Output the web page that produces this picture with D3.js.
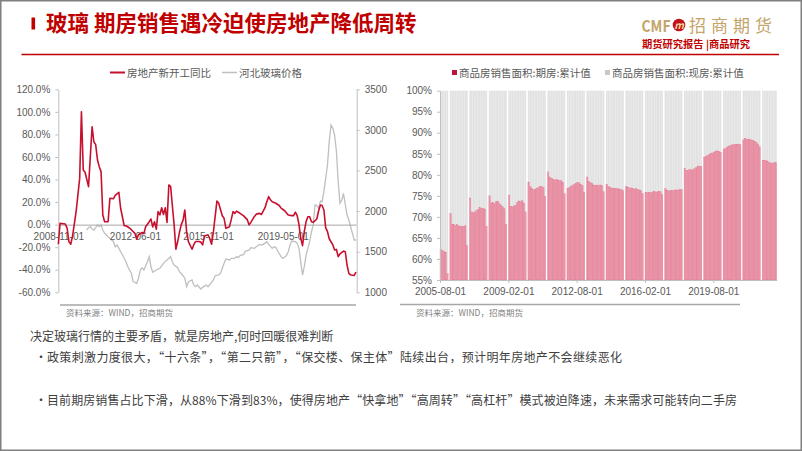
<!DOCTYPE html>
<html><head><meta charset="utf-8">
<script src="https://cdn.jsdelivr.net/npm/d3@7"></script>
<style>
body{margin:0;background:#fff}
svg{display:block}
text{font-family:"Noto Sans CJK SC","Noto Sans",sans-serif}
.num text{font-family:"Liberation Sans",Arial,sans-serif}
</style>
</head><body><svg id="c" width="802" height="451"></svg>
<script>
// ---------------- DATA ----------------
const titleText = "玻璃 期房销售遇冷迫使房地产降低周转";
const leftLegend = ["房地产新开工同比", "河北玻璃价格"];
const rightLegend = ["商品房销售面积:期房:累计值", "商品房销售面积:现房:累计值"];
const sourceText = "资料来源：WIND，招商期货";
const bodyLines = [
  "决定玻璃行情的主要矛盾，就是房地产,何时回暖很难判断",
  "政策刺激力度很大，“十六条”，“第二只箭”，“保交楼、保主体”陆续出台，预计明年房地产不会继续恶化",
  "目前期房销售占比下滑，从88%下滑到83%，使得房地产“快拿地”“高周转”“高杠杆”模式被迫降速，未来需求可能转向二手房"
];

// left chart: 房地产新开工同比 (%)
const startsDates = ["2008-11","2008-12","2009-03","2009-04","2009-05","2009-06","2009-07","2009-09","2009-11","2009-12",
 "2010-01","2010-02","2010-04","2010-06","2010-07","2010-08","2010-09","2010-10","2010-11","2010-12",
 "2011-01","2011-03","2011-04","2011-06","2011-07","2011-09","2011-10","2011-12",
 "2012-01","2012-03","2012-04","2012-06","2012-07","2012-08","2012-10","2012-11","2012-12",
 "2013-02","2013-03","2013-04","2013-05","2013-06","2013-07","2013-08","2013-09","2013-10","2013-11","2013-12",
 "2014-01","2014-02","2014-03","2014-04","2014-05","2014-06","2014-07","2014-08","2014-09","2014-10","2014-11","2014-12",
 "2015-02","2015-03","2015-04","2015-06","2015-07","2015-08","2015-09","2015-11","2015-12",
 "2016-01","2016-02","2016-04","2016-05","2016-07","2016-08","2016-09","2016-11","2016-12",
 "2017-01","2017-02","2017-03","2017-04","2017-05","2017-07","2017-09","2017-10","2017-11",
 "2018-01","2018-02","2018-04","2018-05","2018-07","2018-08","2018-09","2018-10","2018-11",
 "2019-01","2019-03","2019-04","2019-06","2019-08","2019-10","2019-11","2019-12",
 "2020-01","2020-02","2020-03","2020-04","2020-05","2020-06","2020-07","2020-08","2020-09","2020-10","2020-12",
 "2021-01","2021-02","2021-03","2021-04","2021-05","2021-06","2021-07","2021-09","2021-10","2021-11","2021-12",
 "2022-01","2022-03","2022-04","2022-05","2022-06","2022-07","2022-09","2022-10"];
const startsYoY = [-17.4,1.1,0.5,-3.2,-15.1,-17.4,-10.6,11.5,41,100,
 48.5,46.5,33.7,86.8,73.5,71,57.3,51.4,47,8.6,
 2.6,2.6,23.4,23,26,28.7,14.5,-1,
 -1,-3,-4.5,-7.7,-13,-9,-7,-8,-1.8,
 2.6,5,-2,2.6,-4,11.5,8.6,15,9,15,2,
 35.2,33.7,17.4,0,-21.8,-15,-7,0,4,13,-6.7,-15,
 -21.8,-18,-15,-15,-15.5,-18,-10,-9,-12.5,
 -17.4,-6.2,21,19,7.8,5.6,-3.3,-1.8,4.4,
 11.5,10,12,11,10,7.8,4.4,0,2,
 7.3,9.3,10,9,15,20.3,24.8,22,20.3,
 19,17,14.6,12.3,8.6,8,8,11,
 8,0,-12,-18.6,-6.2,2.6,7,7,2.6,2,5,
 12.3,17.4,17,13,-2.6,-6.2,-12.5,-18,-22.5,-22,-28.4,
 -26,-23.5,-24,-35.8,-43.2,-44.6,-45,-42];

// left chart: 河北玻璃价格 (元/吨, right axis)
const glassDates = ["2010-03","2010-04","2010-05","2010-06","2010-07","2010-08","2010-09","2010-10","2010-11","2010-12",
 "2011-01","2011-03","2011-04","2011-06","2011-07","2011-08","2011-09","2011-11",
 "2012-01","2012-02","2012-04","2012-05","2012-07","2012-08","2012-09","2012-10","2012-11",
 "2013-01","2013-02","2013-03","2013-04","2013-06","2013-08","2013-10","2013-12",
 "2014-02","2014-03","2014-04","2014-06","2014-07","2014-09","2014-10","2014-11","2014-12",
 "2015-02","2015-03","2015-04","2015-05","2015-07","2015-08","2015-10","2015-11",
 "2016-01","2016-02","2016-03","2016-05","2016-06","2016-08","2016-09","2016-11","2016-12",
 "2017-02","2017-03","2017-04","2017-05","2017-07","2017-08","2017-10","2017-11",
 "2018-01","2018-02","2018-04","2018-05","2018-06","2018-08","2018-09","2018-11","2018-12",
 "2019-01","2019-02","2019-04","2019-05","2019-07","2019-08","2019-09","2019-10","2019-12",
 "2020-01","2020-02","2020-03","2020-04","2020-05","2020-06","2020-07","2020-08","2020-09","2020-10","2020-11","2020-12",
 "2021-01","2021-02","2021-03","2021-04","2021-06","2021-07","2021-08","2021-09","2021-10","2021-11","2021-12",
 "2022-01","2022-02","2022-03","2022-05","2022-06","2022-07","2022-09","2022-10"];
const glassPrice = [1767,1796,1808,1780,1767,1796,1829,1808,1829,1767,
 1727,1685,1665,1623,1561,1582,1541,1459,
 1377,1315,1234,1131,1111,1172,1275,1303,1275,
 1377,1439,1315,1246,1275,1295,1357,1398,
 1439,1377,1336,1303,1254,1204,1172,1069,1131,
 1152,1090,1069,1090,1041,1061,1090,1069,
 1123,1152,1204,1213,1234,1357,1410,1398,1418,
 1418,1439,1427,1451,1467,1508,1520,1549,
 1541,1561,1590,1582,1590,1623,1590,1541,1561,
 1553,1512,1439,1418,1451,1500,1582,1631,1623,
 1603,1541,1377,1213,1315,1459,1541,1623,1746,1829,2075,2067,
 2034,2124,2116,2239,2568,2855,3060,3019,2937,2732,2362,
 2096,2137,2219,1952,1890,1808,1644,1644];

// right chart: 期房销售面积占比 (%), months Feb..Dec each year (January not published); 2005 starts in August
const shareYears = [2005,2006,2007,2008,2009,2010,2011,2012,2013,2014,2015,2016,2017,2018,2019,2020,2021,2022];
const shareFirstMonth = [8,2,2,2,2,2,2,2,2,2,2,2,2,2,2,2,2,2];
const presaleShare = [
 [62.3,62.0,61.8,61.6,56.5],
 [70.8,68.3,68.2,68.0,68.2,67.9,67.8,67.7,67.8,67.9,63.2],
 [74.5,71.2,71.0,71.2,71.5,71.8,72.2,72.1,72.0,71.9,67.8],
 [75.0,73.3,73.5,73.2,73.6,73.7,73.2,72.8,72.4,72.0,68.3],
 [75.2,72.5,72.4,72.6,72.8,73.5,73.8,73.7,73.9,73.3,71.2],
 [78.3,77.2,76.8,76.5,76.6,76.7,77.0,77.2,77.3,77.0,74.8],
 [80.7,79.5,79.2,79.0,78.8,78.9,78.8,78.7,78.6,78.2,75.5],
 [76.8,77.0,77.2,77.5,77.7,77.9,78.2,78.1,77.8,77.5,75.9],
 [79.5,78.4,78.2,78.0,77.6,77.5,77.6,77.5,77.6,77.4,76.0],
 [77.8,77.3,77.0,76.9,76.8,76.7,76.8,76.7,76.6,76.5,76.2],
 [77.3,77.1,76.9,76.9,76.8,76.6,76.7,76.6,76.4,76.2,75.6],
 [75.8,75.8,75.9,75.8,75.9,76.0,76.0,75.9,76.1,76.0,75.3],
 [76.7,76.4,76.2,76.2,76.3,76.3,76.4,76.4,76.4,76.5,76.5],
 [81.5,81.1,81.0,81.2,81.3,81.1,81.5,81.7,81.9,82.1,82.0],
 [84.2,84.4,84.6,84.8,85.0,85.2,85.4,85.6,85.7,85.6,85.4],
 [86.1,86.3,86.6,86.8,86.9,87.1,87.2,87.3,87.3,87.3,87.2],
 [88.3,88.7,88.5,88.5,88.4,88.3,88.2,88.0,87.7,87.3,86.7],
 [83.5,83.5,83.4,83.2,82.9,82.8,82.8,82.9,82.9]
];

const leftTicksY = [-60,-40,-20,0,20,40,60,80,100,120];
const rightTicksY = [1000,1500,2000,2500,3000,3500];
const leftTicksX = ["2008-11-01","2012-06-01","2015-11-01","2019-05-01"];
const shareTicksY = [55,60,65,70,75,80,85,90,95,100];
const shareTicksX = ["2005-08-01","2009-02-01","2012-08-01","2016-02-01","2019-08-01"];

// ---------------- DRAW ----------------
const svg = d3.select("#c");
const pm = d3.timeParse("%Y-%m");
const pd = d3.timeParse("%Y-%m-%d");
const fmtD = d3.timeFormat("%Y-%m-%d");
const txt = "#595959", axisCol = "#bfbfbf";
const RED = "#c00000";

// frame
svg.append("rect").attr("x",0.75).attr("y",0.75).attr("width",800.5).attr("height",449.5)
  .attr("fill","none").attr("stroke","#7f7f7f").attr("stroke-width",1.5);

// header
svg.append("rect").attr("x",31.5).attr("y",17.5).attr("width",3.6).attr("height",12).attr("fill",RED);
svg.append("text").attr("x",46).attr("y",30.5).attr("font-size",21.5).attr("font-weight",700)
  .attr("fill",RED).text(titleText);
svg.append("line").attr("x1",21.5).attr("x2",779).attr("y1",54.5).attr("y2",54.5)
  .attr("stroke",RED).attr("stroke-width",1.3);
// logo
const gold = "#c4a46a";
svg.append("text").attr("x",641.5).attr("y",31.5).attr("font-family","Liberation Sans, Arial").attr("font-size",16)
  .attr("font-weight",700).attr("fill",gold).attr("textLength",29).attr("lengthAdjust","spacingAndGlyphs").text("CMF");
svg.append("circle").attr("cx",679).attr("cy",25).attr("r",6.3).attr("fill","#c0121c");
svg.append("text").attr("x",679).attr("y",28.5).attr("text-anchor","middle").attr("font-family","Liberation Serif")
  .attr("font-style","italic").attr("font-weight",700).attr("font-size",10).attr("fill","#f3d9a0").text("m");
svg.append("text").attr("x",689).attr("y",32).attr("font-size",17)
  .attr("textLength",83).attr("lengthAdjust","spacing")
  .attr("fill",gold).text("招商期货");
svg.append("text").attr("x",642).attr("y",48).attr("font-size",10).attr("font-weight",700)
  .attr("fill",RED).attr("textLength",108).attr("lengthAdjust","spacingAndGlyphs").text("期货研究报告 |商品研究");

// ---------- left chart ----------
const xL = d3.scaleTime().domain([pm("2008-11"), pm("2022-10")]).range([58.3, 356]);
const yL = d3.scaleLinear().domain([-60,120]).range([292.3, 89.3]);
const yR = d3.scaleLinear().domain([1000,3500]).range([292.3, 89.3]);

function styleAxis(g){
  g.select(".domain").attr("stroke",axisCol);
  g.selectAll(".tick line").attr("stroke",axisCol);
  g.selectAll(".tick text").attr("fill",txt).attr("font-size",10);
  g.attr("class","num");
}
svg.append("g").attr("transform","translate(58.3,0)")
  .call(d3.axisLeft(yL).tickValues(leftTicksY).tickFormat(d=>d.toFixed(1)+"%").tickSize(3).tickSizeOuter(0).tickPadding(5))
  .call(styleAxis);
svg.append("g").attr("transform","translate(356.7,0)")
  .call(d3.axisRight(yR).tickValues(rightTicksY).tickFormat(d3.format("d")).tickSize(3).tickSizeOuter(0).tickPadding(5))
  .call(styleAxis);

const gl = d3.line().x(d=>xL(d[0])).y(d=>yR(d[1]));
svg.append("path").datum(glassDates.map((d,i)=>[pm(d),glassPrice[i]]))
  .attr("d",gl).attr("fill","none").attr("stroke","#bfbfbf").attr("stroke-width",1.3);

const xa = svg.append("g").attr("transform",`translate(0,${yL(0)})`)
  .call(d3.axisBottom(xL).tickValues(leftTicksX.map(pd)).tickFormat(fmtD).tickSize(0).tickPadding(8))
  .call(styleAxis);
xa.select(".domain").attr("stroke","#a6a6a6");

const rl = d3.line().x(d=>xL(d[0])).y(d=>yL(d[1]));
svg.append("path").datum(startsDates.map((d,i)=>[pm(d),startsYoY[i]]))
  .attr("d",rl).attr("fill","none").attr("stroke","#c8102e").attr("stroke-width",1.6).attr("stroke-linejoin","round");

// left legend
svg.append("line").attr("x1",110).attr("x2",125).attr("y1",72.5).attr("y2",72.5).attr("stroke","#c8102e").attr("stroke-width",2);
svg.append("text").attr("x",127).attr("y",76.5).attr("font-size",10.5).attr("fill",txt).text(leftLegend[0]);
svg.append("line").attr("x1",222).attr("x2",237).attr("y1",72.5).attr("y2",72.5).attr("stroke","#bfbfbf").attr("stroke-width",1.5);
svg.append("text").attr("x",239).attr("y",76.5).attr("font-size",10.5).attr("fill",txt).text(leftLegend[1]);

// source (left)
svg.append("line").attr("x1",60).attr("x2",356).attr("y1",305).attr("y2",305).attr("stroke","#a6a6a6").attr("stroke-width",1.5);
svg.append("text").attr("x",66).attr("y",316).attr("font-size",8.5).attr("fill","#7f7f7f").text(sourceText);

// ---------- right chart ----------
const xS = d3.scaleTime().domain([pm("2005-08"), pm("2022-11")]).range([440, 776.7]);
const yS = d3.scaleLinear().domain([55,100]).range([280, 90.7]);
const bars = [];
shareYears.forEach((yr,i)=>{
  presaleShare[i].forEach((v,j)=>{
    const d = new Date(yr, shareFirstMonth[i]-1+j, 1);
    bars.push({d, v});
  });
});
const bg = svg.append("g");
bg.selectAll("rect.g").data(bars).join("rect").attr("class","g")
  .attr("x",b=>xS(b.d)).attr("width",b=>xS(d3.timeMonth.offset(b.d,1))-xS(b.d))
  .attr("y",yS(100)).attr("height",b=>yS(b.v)-yS(100)).attr("fill","#e2e2e2");
bg.selectAll("rect.p").data(bars).join("rect").attr("class","p")
  .attr("x",b=>xS(b.d)).attr("width",b=>xS(d3.timeMonth.offset(b.d,1))-xS(b.d))
  .attr("y",b=>yS(b.v)).attr("height",b=>yS(55)-yS(b.v)).attr("fill","#ea92a6")
  .attr("stroke","#de7a93").attr("stroke-width",0.3);

svg.append("g").attr("transform","translate(440,0)")
  .call(d3.axisLeft(yS).tickValues(shareTicksY).tickFormat(d=>d+"%").tickSize(3).tickSizeOuter(0).tickPadding(5))
  .call(styleAxis);
svg.append("g").attr("transform",`translate(0,${yS(55)})`)
  .call(d3.axisBottom(xS).tickValues(shareTicksX.map(pd)).tickFormat(fmtD).tickSize(3).tickSizeOuter(0).tickPadding(5))
  .call(styleAxis);

// right legend
svg.append("rect").attr("x",452).attr("y",70).attr("width",5).attr("height",5).attr("fill","#c0143c");
svg.append("text").attr("x",459).attr("y",76.5).attr("font-size",10.5).attr("fill",txt).text(rightLegend[0]);
svg.append("rect").attr("x",605).attr("y",70).attr("width",5).attr("height",5).attr("fill","#c8c8c8");
svg.append("text").attr("x",612).attr("y",76.5).attr("font-size",10.5).attr("fill",txt).text(rightLegend[1]);

svg.append("line").attr("x1",400).attr("x2",740).attr("y1",304.5).attr("y2",304.5).attr("stroke","#a6a6a6").attr("stroke-width",1.5);
svg.append("text").attr("x",416).attr("y",316).attr("font-size",8.5).attr("fill","#7f7f7f").text(sourceText);

// ---------- body text ----------
const bodyCol = "#404040";
svg.append("text").attr("x",30).attr("y",340.5).attr("font-size",12).attr("fill",bodyCol).text(bodyLines[0]);
[[357,bodyLines[1],575],[400,bodyLines[2],690]].forEach(([y,t,len])=>{
  svg.append("text").attr("x",35).attr("y",y+4.5).attr("font-size",12).attr("fill",bodyCol).attr("font-family","Liberation Sans").text("•");
  svg.append("text").attr("x",47).attr("y",y+4.5).attr("font-size",12).attr("fill",bodyCol)
    .attr("textLength",len).attr("lengthAdjust","spacing").text(t);
});
</script></body></html>
